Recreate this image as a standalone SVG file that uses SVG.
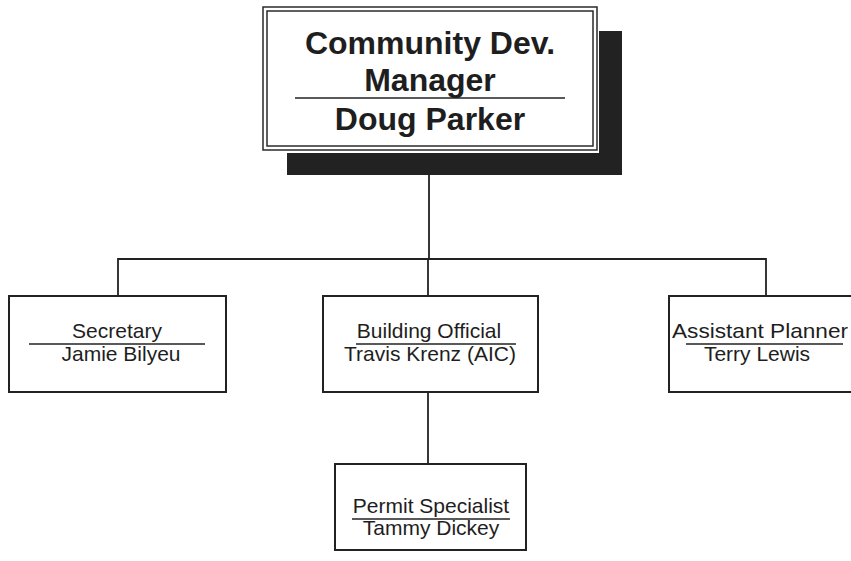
<svg xmlns="http://www.w3.org/2000/svg" width="851" height="561" viewBox="0 0 851 561">
  <style>
    .box { fill: #ffffff; stroke: #222222; stroke-width: 2; }
    .frame { fill: none; stroke: #2a2a2a; stroke-width: 1.5; }
    .rule { stroke: #222222; stroke-width: 1.6; }
    .conn { fill: none; stroke: #222222; stroke-width: 1.8; }
    .t { font-family: "Liberation Sans", Arial, sans-serif; font-size: 21px; fill: #1e1e1e; text-anchor: middle; }
    .tb { font-family: "Liberation Sans", Arial, sans-serif; font-size: 32px; font-weight: bold; fill: #1e1e1e; text-anchor: middle; }
  </style>
  <rect width="851" height="561" fill="#ffffff"/>

  <!-- connectors -->
  <g id="connectors">
    <path class="conn" d="M429 175 V259"/>
    <path class="conn" d="M118 296 V259 H766 V296"/>
    <path class="conn" d="M428 259 V296"/>
    <path class="conn" d="M428 392 V464"/>
  </g>

  <!-- head of department, with drop shadow -->
  <g id="manager">
    <rect x="287" y="31" width="335" height="144" fill="#222222"/>
    <rect x="261" y="5" width="338" height="148" fill="#ffffff"/>
    <rect class="frame" x="263" y="7" width="334" height="143"/>
    <rect class="frame" x="267" y="11" width="326" height="135"/>
    <text class="tb" x="430" y="54">Community Dev.</text>
    <text class="tb" x="430" y="91">Manager</text>
    <line class="rule" x1="295" y1="98" x2="565" y2="98"/>
    <text class="tb" x="430" y="130">Doug Parker</text>
  </g>

  <g id="secretary">
    <rect class="box" x="9" y="296" width="217" height="96"/>
    <text class="t" x="117" y="338">Secretary</text>
    <line class="rule" x1="29" y1="344" x2="205" y2="344"/>
    <text class="t" x="121" y="361">Jamie Bilyeu</text>
  </g>

  <g id="building-official">
    <rect class="box" x="323" y="296" width="215" height="96"/>
    <text class="t" x="429" y="338">Building Official</text>
    <line class="rule" x1="356" y1="344" x2="516" y2="344"/>
    <text class="t" x="430" y="361">Travis Krenz (AIC)</text>
  </g>

  <g id="assistant-planner">
    <rect class="box" x="669" y="296" width="190" height="96"/>
    <text class="t" x="760" y="338" textLength="176" lengthAdjust="spacingAndGlyphs">Assistant Planner</text>
    <line class="rule" x1="686" y1="344" x2="843" y2="344"/>
    <text class="t" x="757" y="361">Terry Lewis</text>
  </g>

  <g id="permit-specialist">
    <rect class="box" x="335" y="464" width="191" height="86"/>
    <text class="t" x="431" y="513">Permit Specialist</text>
    <line class="rule" x1="352" y1="519" x2="510" y2="519"/>
    <text class="t" x="431" y="535">Tammy Dickey</text>
  </g>
</svg>
